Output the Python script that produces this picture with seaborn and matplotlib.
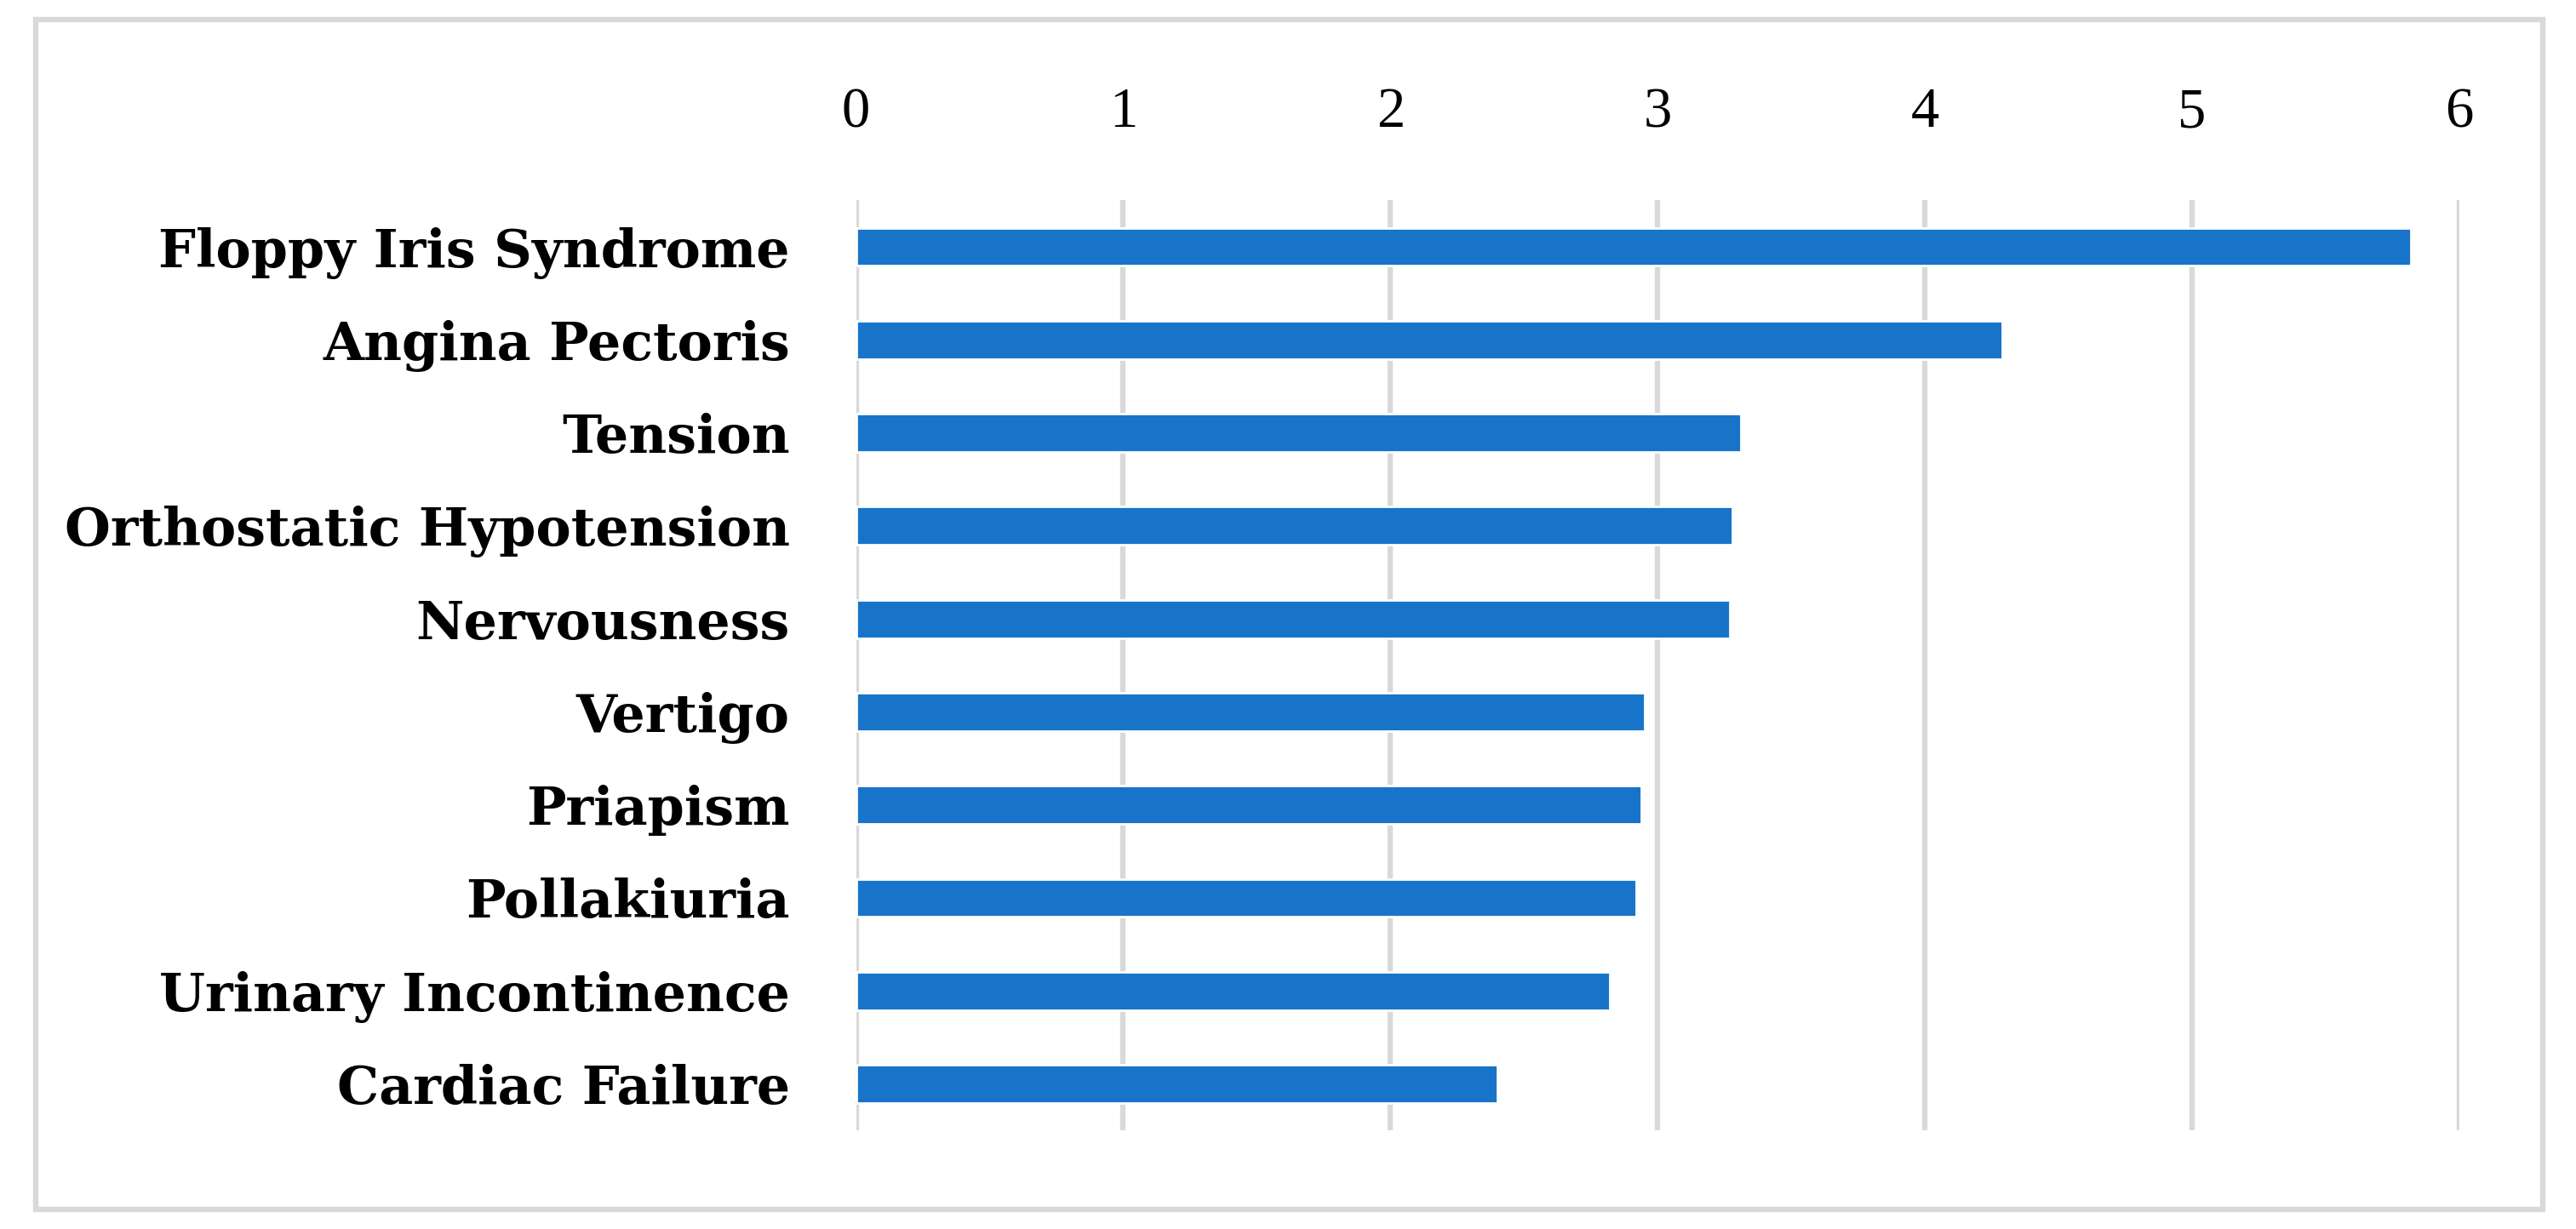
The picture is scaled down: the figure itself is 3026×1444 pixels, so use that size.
import matplotlib
matplotlib.use("Agg")
import matplotlib.pyplot as plt
import seaborn as sns
import pandas as pd
from matplotlib.patches import Rectangle

categories = ['Floppy Iris Syndrome', 'Angina Pectoris', 'Tension',
              'Orthostatic Hypotension', 'Nervousness', 'Vertigo',
              'Priapism', 'Pollakiuria', 'Urinary Incontinence', 'Cardiac Failure']
values = [5.82, 4.29, 3.31, 3.28, 3.27, 2.95, 2.94, 2.92, 2.82, 2.40]
x_ticks = [0, 1, 2, 3, 4, 5, 6]

df = pd.DataFrame({'effect': categories, 'value': values})

sns.set_theme(style='white')
plt.rcParams['font.family'] = ['Liberation Serif', 'DejaVu Serif']
plt.rcParams['text.color'] = 'black'
plt.rcParams['xtick.color'] = 'black'
plt.rcParams['ytick.color'] = 'black'

fig = plt.figure(figsize=(15.13, 7.22), dpi=200)
ax = fig.add_axes([0.3323, 0.0802, 0.6224, 0.7568])

sns.barplot(data=df, x='value', y='effect', orient='h', color='#1874C8',
            width=0.41, saturation=1, ax=ax, zorder=3)

ax.set_xlim(0, 6)
ax.set_ylim(9.5, -0.5)
ax.set_xticks(x_ticks)
ax.xaxis.tick_top()
ax.grid(axis='x', color='#d9d9d9', linewidth=2.3, zorder=0)
ax.set_axisbelow(True)
for s in ax.spines.values():
    s.set_visible(False)
ax.tick_params(axis='both', length=0)
ax.tick_params(axis='x', pad=26, labelsize=24, labelcolor='black')
ax.tick_params(axis='y', pad=28, labelcolor='black')
for lbl in ax.get_yticklabels():
    lbl.set_fontfamily('DejaVu Serif')
    lbl.set_fontweight('bold')
    lbl.set_fontsize(22.3)
ax.set_xlabel('')
ax.set_ylabel('')

# light grey frame around the whole chart
fig.patches.append(Rectangle((0.014, 0.016), 0.973, 0.968, transform=fig.transFigure,
                             fill=False, edgecolor='#d9d9d9', linewidth=2.3))

fig.savefig('out.png', dpi=200, facecolor='white')
